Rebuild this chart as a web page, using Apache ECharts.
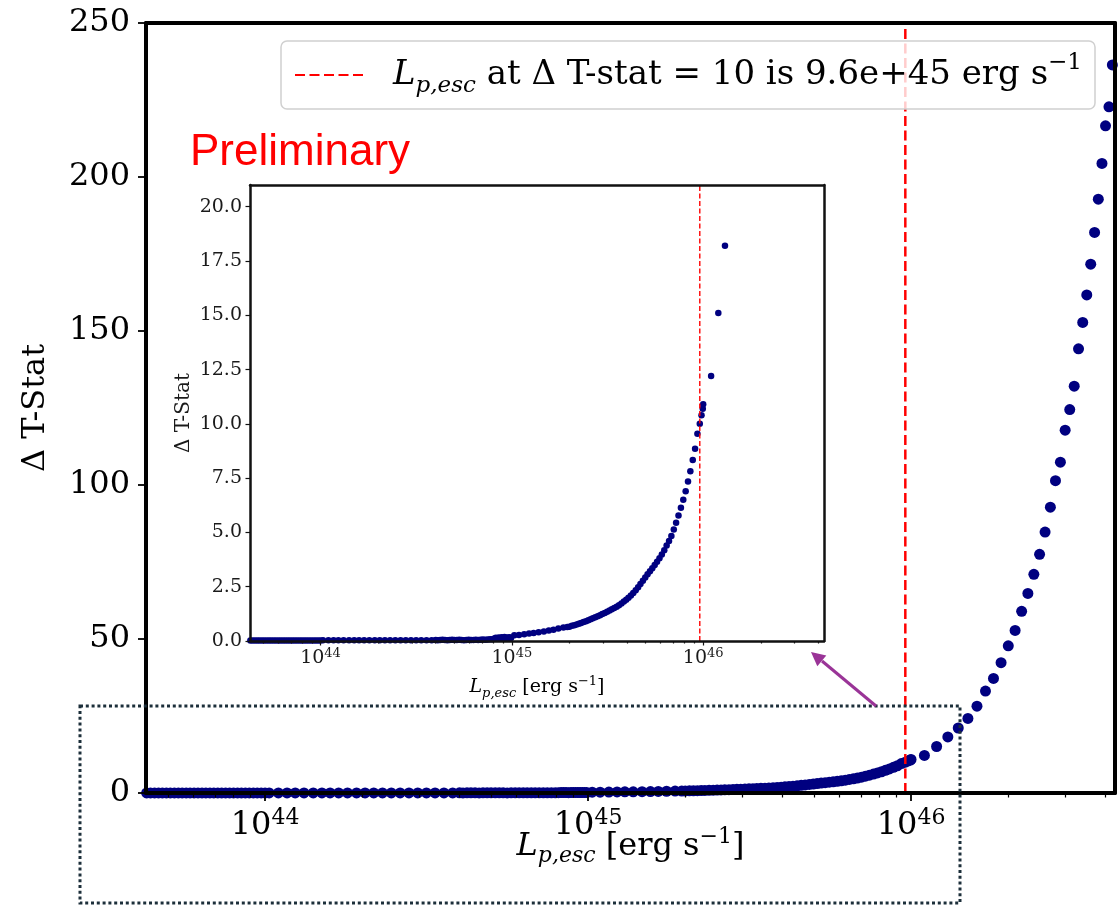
<!DOCTYPE html>
<html>
<head>
<meta charset="utf-8">
<script src="https://cdn.jsdelivr.net/npm/echarts@6/dist/echarts.min.js"></script>
<style>
  html, body { margin: 0; padding: 0; background: #ffffff; }
  #chart { width: 1119px; height: 905px; }
</style>
</head>
<body>
<div id="chart"></div>
<script>
// Δ T-Stat profile as a function of the escaping proton luminosity L_p,esc [erg s^-1]

// floor of the scan below 1e44 erg/s
const floorL = [4.30e43, 4.42e43, 4.55e43, 4.68e43, 4.81e43, 4.95e43, 5.09e43, 5.24e43, 5.39e43, 5.54e43,
  5.70e43, 5.86e43, 6.03e43, 6.20e43, 6.38e43, 6.56e43, 6.75e43, 6.94e43, 7.14e43, 7.34e43,
  7.55e43, 7.77e43, 7.99e43, 8.22e43, 8.45e43, 8.69e43, 8.94e43, 9.20e43, 9.46e43, 9.73e43, 1.00e44];
const floorTS = [0.02, 0.02, 0.02, 0.02, 0.02, 0.02, 0.02, 0.02, 0.02, 0.02,
  0.02, 0.02, 0.02, 0.02, 0.02, 0.02, 0.02, 0.02, 0.02, 0.02,
  0.02, 0.02, 0.02, 0.02, 0.02, 0.02, 0.02, 0.02, 0.02, 0.02, 0.02];

// coarse steps between 1e44 and 4e44 erg/s
const coarseL = [1.03e44, 1.10e44, 1.17e44, 1.24e44, 1.32e44, 1.41e44, 1.50e44, 1.59e44, 1.69e44, 1.80e44, 1.92e44,
  2.04e44, 2.17e44, 2.31e44, 2.46e44, 2.62e44, 2.79e44, 2.97e44, 3.16e44, 3.36e44, 3.58e44, 3.81e44];
const coarseTS = [0.03, 0.03, 0.03, 0.03, 0.03, 0.03, 0.03, 0.03, 0.03, 0.03, 0.03,
  0.03, 0.03, 0.03, 0.03, 0.03, 0.03, 0.03, 0.03, 0.03, 0.03, 0.03];

// dense plateau 4e44 - 8e44 erg/s
const plateauL = [4.00e44, 4.10e44, 4.22e44, 4.34e44, 4.47e44, 4.60e44, 4.73e44, 4.87e44, 5.01e44, 5.16e44,
  5.31e44, 5.46e44, 5.62e44, 5.78e44, 5.95e44, 6.12e44, 6.30e44, 6.48e44, 6.67e44, 6.86e44,
  7.06e44, 7.27e44, 7.48e44, 7.70e44, 7.92e44];
const plateauTS = [0.05, 0.04, 0.05, 0.06, 0.05, 0.04, 0.05, 0.06, 0.05, 0.05,
  0.06, 0.05, 0.04, 0.05, 0.06, 0.05, 0.05, 0.06, 0.05, 0.06,
  0.07, 0.06, 0.07, 0.08, 0.08];

// shoulder just below 1e45 erg/s
const shoulderL = [8.10e44, 8.25e44, 8.40e44, 8.55e44, 8.70e44, 8.85e44, 9.00e44, 9.15e44, 9.30e44, 9.45e44, 9.60e44, 9.75e44, 9.90e44];
const shoulderTS = [0.12, 0.15, 0.13, 0.16, 0.12, 0.17, 0.14, 0.18, 0.13, 0.16, 0.15, 0.17, 0.14];

// coarse steps above 1e45 erg/s
const kneeL = [1.03e45, 1.09e45, 1.16e45, 1.23e45, 1.30e45, 1.38e45, 1.47e45, 1.56e45, 1.65e45, 1.75e45, 1.86e45];
const kneeTS = [0.26, 0.28, 0.31, 0.34, 0.37, 0.40, 0.44, 0.48, 0.52, 0.57, 0.62];

// dense rise up to 1e46 erg/s
const riseL = [1.95e45, 2.00e45, 2.06e45, 2.12e45, 2.18e45, 2.24e45, 2.30e45, 2.37e45, 2.44e45, 2.51e45,
  2.58e45, 2.65e45, 2.73e45, 2.81e45, 2.89e45, 2.97e45, 3.06e45, 3.15e45, 3.24e45, 3.33e45,
  3.43e45, 3.53e45, 3.63e45, 3.74e45, 3.85e45, 3.96e45, 4.07e45, 4.19e45, 4.31e45, 4.44e45,
  4.57e45, 4.70e45, 4.84e45, 4.98e45, 5.12e45, 5.27e45, 5.42e45, 5.58e45, 5.74e45, 5.91e45,
  6.08e45, 6.26e45, 6.44e45, 6.63e45, 6.82e45, 7.02e45, 7.22e45, 7.43e45, 7.65e45, 7.87e45,
  8.10e45, 8.33e45, 8.57e45, 8.82e45, 9.07e45, 9.33e45, 9.60e45, 9.80e45, 9.95e45];
const riseTS = [0.64, 0.66, 0.70, 0.73, 0.76, 0.80, 0.83, 0.87, 0.91, 0.96,
  1.00, 1.05, 1.09, 1.14, 1.19, 1.24, 1.29, 1.35, 1.40, 1.46,
  1.52, 1.58, 1.65, 1.73, 1.82, 1.90, 1.99, 2.09, 2.21, 2.34,
  2.48, 2.62, 2.77, 2.92, 3.07, 3.21, 3.35, 3.50, 3.65, 3.81,
  3.98, 4.18, 4.40, 4.60, 4.84, 5.14, 5.45, 5.78, 6.14, 6.50,
  6.90, 7.35, 7.82, 8.34, 8.85, 9.55, 10.00, 10.40, 10.70];

// steps of 1e45 erg/s above 1e46 erg/s
const tailL = [1.0e46, 1.1e46, 1.2e46, 1.3e46, 1.4e46, 1.5e46, 1.6e46, 1.7e46, 1.8e46, 1.9e46,
  2.0e46, 2.1e46, 2.2e46, 2.3e46, 2.4e46, 2.5e46, 2.6e46, 2.7e46, 2.8e46, 2.9e46,
  3.0e46, 3.1e46, 3.2e46, 3.3e46, 3.4e46, 3.5e46, 3.6e46, 3.7e46, 3.8e46, 3.9e46,
  4.0e46, 4.1e46, 4.2e46];
const tailTS = [10.9, 12.2, 15.1, 18.2, 21.1, 24.2, 28.2, 33.1, 37.2, 42.3,
  47.8, 52.8, 59.0, 64.8, 71.0, 77.5, 84.7, 92.8, 101.4, 107.4,
  117.8, 124.5, 132.1, 144.2, 152.8, 161.7, 171.7, 182.0, 192.8, 204.4,
  216.6, 222.8, 236.4];

// luminosity where Δ T-stat reaches 10
const thresholdL = 9.6e45;

// axis ranges and ticks
const xRange = [4.28e43, 4.28e46];
const mainYRange = [0, 250];
const insetYRange = [0, 21];
const majorTicksL = [1e44, 1e45, 1e46];
const minorTicksL = [5e43, 6e43, 7e43, 8e43, 9e43,
  2e44, 3e44, 4e44, 5e44, 6e44, 7e44, 8e44, 9e44,
  2e45, 3e45, 4e45, 5e45, 6e45, 7e45, 8e45, 9e45,
  2e46, 3e46, 4e46];
const mainYTicks = [0, 50, 100, 150, 200, 250];
const insetYTicks = [0, 2.5, 5, 7.5, 10, 12.5, 15, 17.5, 20];

const lum = [].concat(floorL, coarseL, plateauL, shoulderL, kneeL, riseL, tailL);
const tstat = [].concat(floorTS, coarseTS, plateauTS, shoulderTS, kneeTS, riseTS, tailTS);
const points = lum.map((l, i) => [l, tstat[i]]);

const SERIF = "'DejaVu Serif', serif";
const NAVY = '#000080';
const RED = '#ff0000';
const legendName = 'threshold';

const powLabel = v => '{b|10}{s|' + Math.round(Math.log10(v)) + '}';

function lumName(big, small) {
  return {
    l: { fontFamily: SERIF, fontStyle: 'italic', fontSize: big, lineHeight: big * 1.3, color: '#000' },
    sub: { fontFamily: SERIF, fontStyle: 'italic', fontSize: small, lineHeight: small, verticalAlign: 'bottom', color: '#000' },
    t: { fontFamily: SERIF, fontSize: big, lineHeight: big * 1.3, color: '#000' },
    sup: { fontFamily: SERIF, fontSize: small, lineHeight: small, verticalAlign: 'top', color: '#000' }
  };
}
const lumAxisName = '{l|L}{sub|p,esc}{t| [erg s}{sup|\u22121}{t|]}';

function frameX(gridIndex, width, color) {
  return {
    gridIndex, type: 'value', min: 0, max: 1, position: 'top', z: 10,
    axisLine: { show: true, onZero: false, lineStyle: { color, width } },
    axisTick: { show: false }, axisLabel: { show: false }, splitLine: { show: false }
  };
}
function frameY(gridIndex, width, color) {
  return {
    gridIndex, type: 'value', min: 0, max: 1, position: 'right', z: 10,
    axisLine: { show: true, onZero: false, lineStyle: { color, width } },
    axisTick: { show: false }, axisLabel: { show: false }, splitLine: { show: false }
  };
}
function minorX(gridIndex, len, color) {
  return {
    gridIndex, type: 'log', logBase: 10, min: xRange[0], max: xRange[1], position: 'bottom', z: 10,
    axisLine: { show: false },
    axisTick: { show: true, length: len, customValues: minorTicksL, lineStyle: { color, width: 1.2 } },
    axisLabel: { show: false }, splitLine: { show: false }
  };
}

const chart = echarts.init(document.getElementById('chart'));

const option = {
  backgroundColor: '#ffffff',
  animation: false,
  grid: [
    { left: 146, top: 23, width: 969, height: 770, outerBoundsMode: 'none', containLabel: false },
    { left: 250, top: 185, width: 574, height: 456, outerBoundsMode: 'none', containLabel: false,
      show: true, backgroundColor: '#ffffff', borderWidth: 0 }
  ],
  legend: {
    data: [legendName],
    left: 281, top: 41,
    orient: 'horizontal',
    padding: [11, 13, 11, 13],
    itemWidth: 71, itemHeight: 16,
    backgroundColor: 'rgba(255,255,255,0.8)',
    borderColor: '#d0d0d0', borderWidth: 1.5, borderRadius: 6,
    selectedMode: false,
    itemStyle: { opacity: 0 },
    formatter: () => '{l|L}{sub|p,esc}{t| at \u0394 T-stat = 10 is ' + thresholdL.toExponential(1) + ' erg s}{sup|\u22121}',
    textStyle: {
      fontFamily: SERIF, fontSize: 34, color: '#000',
      rich: Object.assign(lumName(34, 23), {
        l: { fontFamily: SERIF, fontStyle: 'italic', fontSize: 34, lineHeight: 46, color: '#000', padding: [0, 0, 0, 22] }
      })
    }
  },
  xAxis: [
    {
      gridIndex: 0, type: 'log', logBase: 10, min: xRange[0], max: xRange[1], position: 'bottom', z: 10,
      axisLine: { show: true, onZero: false, lineStyle: { color: '#000', width: 4 } },
      axisTick: { show: true, length: 8, customValues: majorTicksL, lineStyle: { color: '#000', width: 1.8 } },
      axisLabel: { show: true, margin: 14, customValues: majorTicksL, formatter: powLabel,
        rich: {
          b: { fontFamily: SERIF, fontSize: 32, lineHeight: 38, color: '#000' },
          s: { fontFamily: SERIF, fontSize: 22, lineHeight: 22, verticalAlign: 'top', color: '#000' }
        } },
      splitLine: { show: false },
      name: lumAxisName, nameLocation: 'middle', nameGap: 33, nameMoveOverlap: false,
      nameTextStyle: { rich: lumName(32, 22) }
    },
    minorX(0, 4.5, '#000'),
    frameX(0, 4, '#000'),
    {
      gridIndex: 1, type: 'log', logBase: 10, min: xRange[0], max: xRange[1], position: 'bottom', z: 10,
      axisLine: { show: true, onZero: false, lineStyle: { color: '#111', width: 2.5 } },
      axisTick: { show: true, length: 4.5, customValues: majorTicksL, lineStyle: { color: '#111', width: 1.2 } },
      axisLabel: { show: true, margin: 6, customValues: majorTicksL, formatter: powLabel,
        rich: {
          b: { fontFamily: SERIF, fontSize: 19, lineHeight: 23, color: '#1a1a1a' },
          s: { fontFamily: SERIF, fontSize: 13, lineHeight: 13, verticalAlign: 'top', color: '#1a1a1a' }
        } },
      splitLine: { show: false },
      name: lumAxisName, nameLocation: 'middle', nameGap: 34, nameMoveOverlap: false,
      nameTextStyle: { rich: lumName(19, 13) }
    },
    minorX(1, 2.5, '#111'),
    frameX(1, 2.5, '#111')
  ],
  yAxis: [
    {
      gridIndex: 0, type: 'value', min: mainYRange[0], max: mainYRange[1], position: 'left', z: 10,
      axisLine: { show: true, onZero: false, lineStyle: { color: '#000', width: 4 } },
      axisTick: { show: true, length: 8, customValues: mainYTicks, lineStyle: { color: '#000', width: 1.8 } },
      axisLabel: { show: true, margin: 16, customValues: mainYTicks, fontFamily: SERIF, fontSize: 32, color: '#000' },
      splitLine: { show: false },
      name: '\u0394 T-Stat', nameLocation: 'middle', nameGap: 94, nameMoveOverlap: false,
      nameTextStyle: { fontFamily: SERIF, fontSize: 32, color: '#000' }
    },
    frameY(0, 4, '#000'),
    {
      gridIndex: 1, type: 'value', min: insetYRange[0], max: insetYRange[1], position: 'left', z: 10,
      axisLine: { show: true, onZero: false, lineStyle: { color: '#111', width: 2.5 } },
      axisTick: { show: true, length: 4.5, customValues: insetYTicks, lineStyle: { color: '#111', width: 1.2 } },
      axisLabel: { show: true, margin: 8, customValues: insetYTicks, formatter: v => v.toFixed(1),
        fontFamily: SERIF, fontSize: 19, color: '#1a1a1a' },
      splitLine: { show: false },
      name: '\u0394 T-Stat', nameLocation: 'middle', nameGap: 56, nameMoveOverlap: false,
      nameTextStyle: { fontFamily: SERIF, fontSize: 20, color: '#1a1a1a' }
    },
    frameY(1, 2.5, '#111')
  ],
  series: [
    {
      type: 'scatter', xAxisIndex: 0, yAxisIndex: 0, data: points, clip: true,
      symbol: 'circle', symbolSize: 11, itemStyle: { color: NAVY, opacity: 1 }, z: 2
    },
    {
      type: 'line', name: legendName, xAxisIndex: 0, yAxisIndex: 0, z: 3,
      data: [[thresholdL, mainYRange[0]], [thresholdL, mainYRange[1]]],
      symbol: 'none', showSymbol: false, itemStyle: { color: RED },
      lineStyle: { color: RED, width: 2.5, type: [10, 4.5] }
    },
    {
      type: 'scatter', xAxisIndex: 3, yAxisIndex: 2, data: points, clip: true,
      symbol: 'circle', symbolSize: 6.5, itemStyle: { color: NAVY, opacity: 1 }, z: 2
    },
    {
      type: 'line', name: 'inset threshold', xAxisIndex: 3, yAxisIndex: 2, z: 3,
      data: [[thresholdL, insetYRange[0]], [thresholdL, insetYRange[1]]],
      symbol: 'none', showSymbol: false,
      lineStyle: { color: RED, width: 1.4, type: [5, 2.5] }
    }
  ],
  graphic: [
    {
      type: 'text', left: 190, top: 131, z: 20,
      style: { text: 'Preliminary', fill: RED, fontSize: 44, fontFamily: "'Liberation Sans', Arial, sans-serif" }
    },
    {
      type: 'rect', z: 20,
      shape: { x: 80, y: 706, width: 880, height: 197 },
      style: { fill: 'none', stroke: '#1c2f3a', lineWidth: 3, lineDash: [3, 2.8] }
    },
    {
      type: 'line', z: 21,
      shape: { x1: 876, y1: 706, x2: 822, y2: 661 },
      style: { stroke: '#9a3497', lineWidth: 3 }
    },
    {
      type: 'polygon', z: 21,
      shape: { points: [[811, 652], [826.3, 655.5], [817.3, 666.3]] },
      style: { fill: '#9a3497' }
    }
  ]
};

chart.setOption(option);
</script>
</body>
</html>
